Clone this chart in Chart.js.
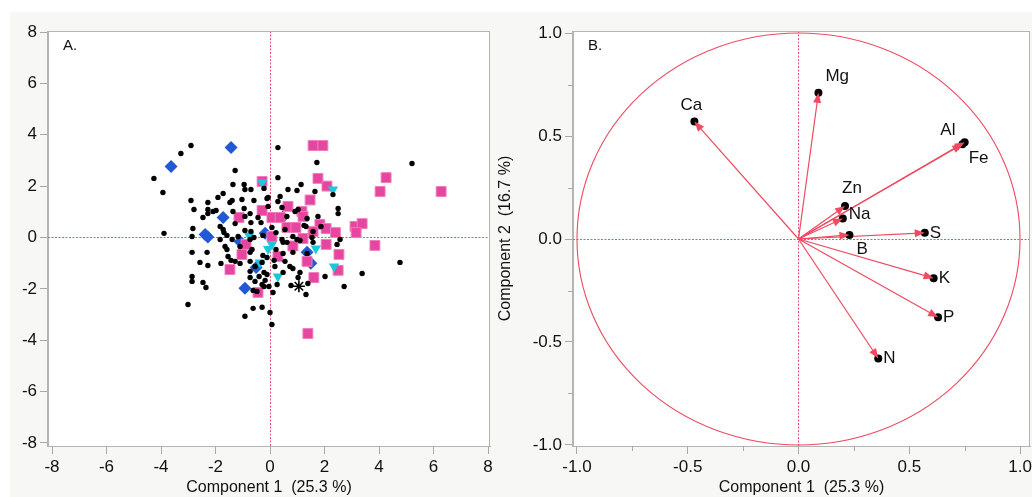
<!DOCTYPE html>
<html>
<head>
<meta charset="utf-8">
<script src="https://cdn.jsdelivr.net/npm/chart.js@4.4.1/dist/chart.umd.min.js"></script>
<style>
  html, body { margin: 0; padding: 0; background: #fff; }
  #wrap { position: relative; width: 1032px; height: 497px; overflow: hidden; background: #fff; }
  #panel { position: absolute; left: 10px; top: 12px; right: 0; bottom: 0; background: #f7f7f5; }
  canvas { position: absolute; top: 0; }
  #scoreChart { left: 0; }
  #loadChart { left: 492px; }
</style>
</head>
<body>
<div id="wrap">
  <div id="panel"></div>
  <canvas id="scoreChart" width="492" height="497"></canvas>
  <canvas id="loadChart" width="540" height="497"></canvas>
</div>
<script>
// ---- panel A: PCA scores, one list per marker group [pc1, pc2]
const blackDots = [
  [-2.90,3.58],[-3.27,3.27],[-4.26,2.30],[-3.93,1.75],[-1.28,2.61],[0.29,3.50],[0.29,2.33],[-2.90,1.44],[-2.79,1.09],[-3.89,0.16],
  [-2.28,1.36],[-1.91,1.56],[-1.72,1.71],[-1.36,2.06],[-0.95,2.06],[-0.92,1.87],[-0.70,1.87],[-0.22,1.91],[-1.39,1.44],[-1.03,1.48],
  [-0.59,1.44],[-0.07,1.56],[0.37,1.60],[0.66,1.87],[0.99,1.83],[1.14,2.06],[1.72,2.92],[1.65,1.79],[-2.28,1.09],[-2.28,0.93],
  [-1.98,1.05],[-2.46,0.78],[-2.83,0.35],[-2.86,0.04],[-1.83,0.43],[-1.72,0.31],[-1.69,0.19],[-1.36,1.01],[-1.28,0.54],[-0.95,1.13],
  [-0.92,0.82],[-0.70,0.58],[-0.44,0.78],[-0.33,0.58],[-0.07,1.21],[0.29,1.40],[0.44,1.17],[0.62,0.82],[0.92,1.01],[1.25,0.47],
  [1.36,0.74],[1.58,0.23],[-0.92,0.27],[-0.70,0.23],[-0.59,0.00],[0.55,0.31],[0.84,0.04],[0.44,-0.08],
  [5.21,2.88],[2.31,1.67],[-0.11,1.52],[1.03,1.09],[2.50,1.13],[2.50,0.93],[1.76,0.82],[1.32,0.43],[1.87,0.43],[0.07,0.39],
  [-0.26,0.08],[0.22,0.19],[1.10,-0.12],[1.54,0.00],[2.57,-0.08],[2.46,-0.27],
  [4.77,-0.97],[3.38,-1.40],[2.72,-1.91],[2.02,-1.52],[1.39,-1.79],[1.32,-2.22],[0.77,-1.87],[1.10,-1.36],[0.84,-1.21],[0.73,-1.13],
  [0.26,-1.83],[0.11,-2.14],[-0.29,-2.72],[0.00,-2.92],[0.07,-3.39],[-0.18,-1.67],[-0.22,-1.36],[0.15,-0.89],[0.48,-0.62],[0.62,-0.19],
  [0.84,-0.58],[0.22,-0.47],[-0.26,-0.70],[-0.11,-0.78],[-0.29,-0.97],[0.18,-1.13],[-0.11,-1.44],
  [-2.86,-0.58],[-2.31,-0.58],[-2.57,-0.97],[-2.28,-1.09],[-2.86,-1.52],[-2.86,-1.71],[-2.46,-1.75],[-2.35,-1.95],[-3.01,-2.61],
  [-1.80,-1.01],[-1.54,-0.74],[-1.43,-0.89],[-1.28,-0.93],[-1.10,-1.01],[-1.58,-0.47],[-1.65,-0.35],[-1.83,-0.08],[-1.58,0.08],[-1.39,-0.08],
  [-1.17,0.04],[-0.73,-0.08],[-0.66,-0.47],[-0.73,-0.93],[-0.73,-1.32],[-0.55,-1.13],[-0.40,-1.52],[-0.62,-2.06],[-0.48,-2.10],[-0.22,-1.91],
  [-0.04,-1.91],[-0.62,-2.76],[-0.92,-3.07],[0.55,-0.93],[0.48,-1.36],[0.48,-0.19],[0.99,-0.08],[1.36,-0.62],
  [-1.10,-0.35],[-0.73,-0.58],[-0.73,-1.56],[-0.55,-1.71],[-0.29,-1.83],[-2.09,1.01],[-1.47,1.36],[-0.73,0.93],[1.58,-0.19],[1.03,-1.56]
];
const pinkSquares = [
  [1.58,3.58],[1.94,3.58],[1.76,2.30],[2.09,2.00],[1.47,1.46],[4.26,2.33],[4.04,1.79],[6.28,1.79],[0.66,1.21],[1.17,1.01],
  [1.21,0.82],[0.07,0.78],[0.37,0.78],[0.62,0.39],[0.95,0.39],[1.83,0.51],[1.58,0.23],[2.06,0.35],[2.40,0.19],[3.12,0.43],
  [3.38,0.54],[3.16,0.19],[3.85,-0.31],[-0.29,2.18],[-0.29,1.05],[-1.14,0.78],[-0.88,-0.27],[-1.03,-0.66],[-1.47,-1.25],[-0.44,-2.14],
  [0.29,-0.74],[0.84,-0.33],[1.21,-0.04],[1.36,-0.93],[1.61,-1.56],[1.39,-3.74],[2.06,-0.27],[2.53,-0.66],[2.50,-1.28],[0.07,0.04]
];
const blueDiamonds = [
  [-1.43,3.50],[-3.63,2.76],[-1.72,0.78],[-2.28,0.02],[-2.38,0.12],[-1.10,-0.16],[-0.18,0.16],[0.47,0.80],[-0.92,-1.98],
  [1.36,-0.58],[1.50,-1.00],[-0.51,-1.17]
];
const cyanTriangles = [
  [-0.29,2.14],[2.31,1.87],[-0.77,0.08],[0.07,-0.27],[-0.07,-0.45],[-0.37,-0.97],[0.29,-1.52],[1.68,-0.43],[2.35,-1.13]
];
const starPoints = [[1.06,-1.90]];
const scoreTicks = [-8, -6, -4, -2, 0, 2, 4, 6, 8];

// ---- panel B: loadings
const elements = ['Ca', 'Mg', 'Al', 'Fe', 'Zn', 'Na', 'B', 'S', 'K', 'P', 'N'];
const pc1 = [-0.47, 0.09, 0.74, 0.75, 0.21, 0.20, 0.23, 0.57, 0.61, 0.63, 0.36];
const pc2 = [0.57, 0.71, 0.46, 0.47, 0.16, 0.10, 0.02, 0.03, -0.19, -0.38, -0.58];
const loadTicks = [-1, -0.5, 0, 0.5, 1];
const loadMinor = [-0.75, -0.25, 0.25, 0.75];

// label placement (pixels from the arrow tip)
const labelPlace = {
  Ca: { dx: -3, dy: -16, align: 'center' },
  Mg: { dx: 7, dy: -16, align: 'left' },
  Al: { dx: -7, dy: -14, align: 'right' },
  Fe: { dx: 4, dy: 16, align: 'left' },
  Zn: { dx: 7, dy: -18, align: 'center' },
  Na: { dx: 6, dy: -4, align: 'left' },
  B: { dx: 7, dy: 14, align: 'left' },
  S: { dx: 5, dy: 0, align: 'left' },
  K: { dx: 5, dy: 0, align: 'left' },
  P: { dx: 5, dy: 0, align: 'left' },
  N: { dx: 5, dy: 0, align: 'left' }
};

const RED = '#ee4a60';
const FONT = '"Liberation Sans", Arial, Helvetica, sans-serif';
Chart.defaults.font.family = FONT;
Chart.defaults.color = '#111';

const toXY = (arr) => arr.map(([x, y]) => ({ x, y }));

const framePlugin = {
  id: 'frame',
  beforeDraw(chart) {
    const { ctx, chartArea: a } = chart;
    ctx.save();
    ctx.fillStyle = '#fff';
    ctx.fillRect(a.left, a.top, a.right - a.left, a.bottom - a.top);
    ctx.restore();
  },
  afterDraw(chart) {
    const { ctx, chartArea: a } = chart;
    ctx.save();
    ctx.strokeStyle = '#b4b4b4';
    ctx.lineWidth = 1;
    ctx.strokeRect(Math.round(a.left) - 0.5, Math.round(a.top) + 0.5, Math.round(a.right - a.left), Math.round(a.bottom - a.top));
    const txt = chart.options.plugins.frame.label;
    ctx.fillStyle = '#111';
    ctx.font = '15px ' + FONT;
    ctx.textBaseline = 'middle';
    ctx.fillText(txt, a.left + 15, a.top + 15);
    ctx.restore();
  }
};

const zeroLines = {
  id: 'zeroLines',
  beforeDatasetsDraw(chart) {
    const { ctx, chartArea: a, scales: { x, y } } = chart;
    const px = Math.floor(x.getPixelForValue(0)) + 0.5;
    const py = Math.floor(y.getPixelForValue(0)) + 0.5;
    ctx.save();
    ctx.strokeStyle = '#f0506a';
    ctx.lineWidth = 1;
    ctx.setLineDash([2, 1.5]);
    ctx.beginPath();
    ctx.moveTo(px, a.top); ctx.lineTo(px, a.bottom);
    ctx.moveTo(a.left, py); ctx.lineTo(a.right, py);
    ctx.stroke();
    ctx.restore();
  }
};

new Chart(document.getElementById('scoreChart'), {
  type: 'scatter',
  data: {
    datasets: [
      { data: toXY(blueDiamonds), pointStyle: 'rectRot', pointRadius: 6.5, backgroundColor: '#2158d4', borderColor: '#2158d4', borderWidth: 0, order: 5 },
      { data: toXY(pinkSquares), pointStyle: 'rect', pointRadius: 7, backgroundColor: '#e645a0', borderColor: '#f07cbc', borderWidth: 1, order: 4 },
      { data: toXY(cyanTriangles), pointStyle: 'triangle', rotation: 180, pointRadius: 6, backgroundColor: '#19c9da', borderColor: '#19c9da', borderWidth: 0, order: 3 },
      { data: toXY(blackDots), pointStyle: 'circle', pointRadius: 2.7, backgroundColor: '#000', borderWidth: 0, order: 2 },
      { data: toXY(starPoints), pointStyle: 'star', pointRadius: 6, borderColor: '#000', borderWidth: 1.6, order: 1 }
    ]
  },
  options: {
    responsive: false,
    animation: false,
    devicePixelRatio: 1,
    layout: { autoPadding: false, padding: { top: 31, right: 2, left: 0, bottom: 0 } },
    plugins: { legend: { display: false }, tooltip: { enabled: false }, frame: { label: 'A.' } },
    scales: {
      x: {
        type: 'linear', min: -8.147, max: 8.073,
        afterBuildTicks: (s) => { s.ticks = scoreTicks.map((v) => ({ value: v })); },
        afterFit: (s) => { s.height = 51; s.paddingLeft = 0; s.paddingRight = 0; },
        grid: { drawOnChartArea: false, drawTicks: true, tickLength: 8, color: '#a8a8a8' },
        border: { color: '#b4b4b4' },
        ticks: { font: { size: 17 }, color: '#111', padding: 3, maxRotation: 0, autoSkip: false },
        title: { display: true, text: 'Component 1  (25.3 %)', font: { size: 16 }, color: '#111', padding: { top: 0, bottom: 0 } }
      },
      y: {
        type: 'linear', min: -8.12, max: 8.04,
        afterBuildTicks: (s) => { s.ticks = scoreTicks.map((v) => ({ value: v })); },
        afterFit: (s) => { s.width = 48; s.paddingTop = 0; s.paddingBottom = 0; },
        grid: { drawOnChartArea: false, drawTicks: true, tickLength: 8, color: '#a8a8a8' },
        border: { color: '#b4b4b4' },
        ticks: { font: { size: 17 }, color: '#111', padding: 3, autoSkip: false }
      }
    }
  },
  plugins: [framePlugin, zeroLines]
});

const circlePlugin = {
  id: 'unitCircle',
  beforeDatasetsDraw(chart) {
    const { ctx, chartArea: a, scales: { x, y } } = chart;
    const cx = x.getPixelForValue(0), cy = y.getPixelForValue(0);
    const rx = x.getPixelForValue(1) - cx, ry = cy - y.getPixelForValue(1);
    ctx.save();
    ctx.beginPath();
    ctx.rect(a.left, a.top, a.right - a.left, a.bottom - a.top);
    ctx.clip();
    ctx.strokeStyle = RED;
    ctx.lineWidth = 1.1;
    ctx.beginPath();
    ctx.ellipse(cx, cy, rx, ry, 0, 0, Math.PI * 2);
    ctx.stroke();
    ctx.restore();
  }
};

const minorTicks = {
  id: 'minorTicks',
  afterDraw(chart) {
    const { ctx, chartArea: a, scales: { x, y } } = chart;
    ctx.save();
    ctx.strokeStyle = '#a8a8a8';
    ctx.lineWidth = 1;
    ctx.beginPath();
    loadMinor.forEach((v) => {
      const px = Math.round(x.getPixelForValue(v)) + 0.5;
      ctx.moveTo(px, a.bottom); ctx.lineTo(px, a.bottom + 5);
      const py = Math.round(y.getPixelForValue(v)) + 0.5;
      ctx.moveTo(a.left, py); ctx.lineTo(a.left - 5, py);
    });
    ctx.stroke();
    ctx.restore();
  }
};

const arrowHeads = {
  id: 'arrowHeads',
  afterDatasetsDraw(chart) {
    const { ctx } = chart;
    ctx.save();
    chart.data.datasets.forEach((ds, i) => {
      const pts = chart.getDatasetMeta(i).data;
      const p0 = pts[0], p1 = pts[1];
      const ang = Math.atan2(p1.y - p0.y, p1.x - p0.x);
      const len = 10, half = 4;
      ctx.fillStyle = RED;
      ctx.beginPath();
      ctx.moveTo(p1.x, p1.y);
      ctx.lineTo(p1.x - len * Math.cos(ang) + half * Math.sin(ang), p1.y - len * Math.sin(ang) - half * Math.cos(ang));
      ctx.lineTo(p1.x - len * Math.cos(ang) - half * Math.sin(ang), p1.y - len * Math.sin(ang) + half * Math.cos(ang));
      ctx.closePath();
      ctx.fill();
      const pl = labelPlace[ds.label];
      ctx.fillStyle = '#111';
      ctx.font = '17px ' + FONT;
      ctx.textAlign = pl.align;
      ctx.textBaseline = 'middle';
      ctx.fillText(ds.label, p1.x + pl.dx, p1.y + pl.dy);
    });
    ctx.restore();
  }
};

new Chart(document.getElementById('loadChart'), {
  type: 'scatter',
  data: {
    datasets: elements.map((name, i) => ({
      label: name,
      data: [{ x: 0, y: 0 }, { x: pc1[i], y: pc2[i] }],
      showLine: true,
      borderColor: RED,
      borderWidth: 1.2,
      pointRadius: [0, 4],
      pointBackgroundColor: '#000',
      pointBorderWidth: 0
    }))
  },
  options: {
    responsive: false,
    animation: false,
    devicePixelRatio: 1,
    layout: { autoPadding: false, padding: { top: 31, right: 2, left: 0, bottom: 0 } },
    plugins: { legend: { display: false }, tooltip: { enabled: false }, frame: { label: 'B.' } },
    scales: {
      x: {
        type: 'linear', min: -1.018, max: 1.045,
        afterBuildTicks: (s) => { s.ticks = loadTicks.map((v) => ({ value: v })); },
        afterFit: (s) => { s.height = 51; s.paddingLeft = 0; s.paddingRight = 0; },
        grid: { drawOnChartArea: false, drawTicks: true, tickLength: 8, color: '#a8a8a8' },
        border: { color: '#b4b4b4' },
        ticks: { font: { size: 17 }, color: '#111', padding: 3, maxRotation: 0, autoSkip: false, callback: (v) => v.toFixed(1) },
        title: { display: true, text: 'Component 1  (25.3 %)', font: { size: 16 }, color: '#111', padding: { top: 0, bottom: 0 } }
      },
      y: {
        type: 'linear', min: -1.005, max: 1.01,
        afterBuildTicks: (s) => { s.ticks = loadTicks.map((v) => ({ value: v })); },
        afterFit: (s) => { s.width = 81; s.paddingTop = 0; s.paddingBottom = 0; },
        grid: { drawOnChartArea: false, drawTicks: true, tickLength: 8, color: '#a8a8a8' },
        border: { color: '#b4b4b4' },
        ticks: { font: { size: 17 }, color: '#111', padding: 3, autoSkip: false, callback: (v) => v.toFixed(1) },
        title: { display: true, text: 'Component 2  (16.7 %)', font: { size: 16 }, color: '#111', padding: { top: 4, bottom: 0 } }
      }
    }
  },
  plugins: [framePlugin, zeroLines, circlePlugin, minorTicks, arrowHeads]
});
</script>
</body>
</html>
